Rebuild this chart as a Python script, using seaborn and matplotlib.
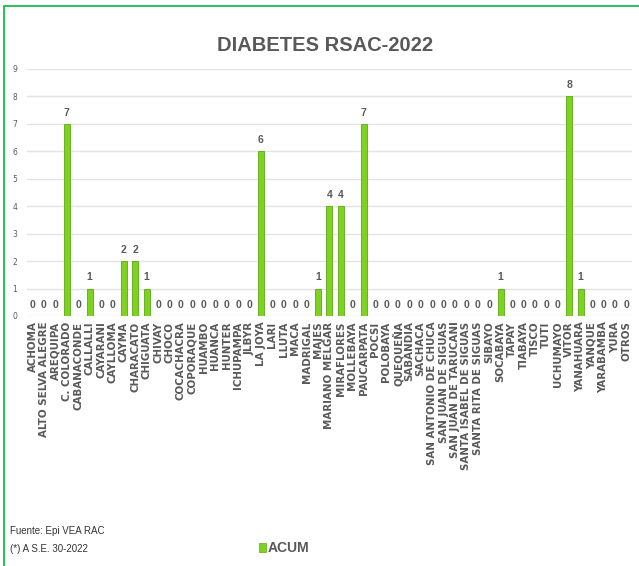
import pandas as pd
import matplotlib
matplotlib.use("Agg")
import matplotlib.pyplot as plt
from matplotlib.lines import Line2D
from matplotlib.patches import Rectangle
import seaborn as sns

distritos = [
    "ACHOMA", "ALTO SELVA ALEGRE", "AREQUIPA", "C. COLORADO", "CABANACONDE",
    "CALLALLI", "CAYARANI", "CAYLLOMA", "CAYMA", "CHARACATO", "CHIGUATA",
    "CHIVAY", "CHOCO", "COCACHACRA", "COPORAQUE", "HUAMBO", "HUANCA", "HUNTER",
    "ICHUPAMPA", "JLBYR", "LA JOYA", "LARI", "LLUTA", "MACA", "MADRIGAL",
    "MAJES", "MARIANO MELGAR", "MIRAFLORES", "MOLLEBAYA", "PAUCARPATA", "POCSI",
    "POLOBAYA", "QUEQUEÑA", "SABANDIA", "SACHACA", "SAN ANTONIO DE CHUCA",
    "SAN JUAN DE SIGUAS", "SAN JUAN DE TARUCANI", "SANTA ISABEL DE SIGUAS",
    "SANTA RITA DE SIGUAS", "SIBAYO", "SOCABAYA", "TAPAY", "TIABAYA", "TISCO",
    "TUTI", "UCHUMAYO", "VITOR", "YANAHUARA", "YANQUE", "YARABAMBA", "YURA",
    "OTROS",
]
acum = [
    0, 0, 0, 7, 0,
    1, 0, 0, 2, 2, 1,
    0, 0, 0, 0, 0, 0, 0,
    0, 0, 6, 0, 0, 0, 0,
    1, 4, 4, 0, 7, 0,
    0, 0, 0, 0, 0,
    0, 0, 0,
    0, 0, 1, 0, 0, 0,
    0, 0, 8, 1, 0, 0, 0,
    0,
]

df = pd.DataFrame({"Distrito": distritos, "ACUM": acum})

sns.set_theme(style="white")
narrow = ["Liberation Sans Narrow", "Liberation Sans", "DejaVu Sans"]
gray = "#595959"
bar_green = "#7ed321"

fig = plt.figure(figsize=(6.39, 5.66), dpi=100)
ax = fig.add_axes([0.042, 0.4417, 0.947, 0.4366])

sns.barplot(data=df, x="Distrito", y="ACUM", color=bar_green, width=0.52,
            saturation=1, edgecolor="#5ea617", linewidth=0.6, ax=ax)

ax.set_ylim(0, 9)
ax.set_xlim(-0.5, len(distritos) - 0.5)
ax.set_yticks(range(0, 10))
ax.yaxis.grid(True, color="#e3e3e3", linewidth=1)
ax.set_axisbelow(True)
for s in ax.spines.values():
    s.set_visible(False)
ax.set_xlabel("")
ax.set_ylabel("")
ax.tick_params(axis="y", labelsize=5.5, colors=gray, pad=7, length=0)
ax.tick_params(axis="x", length=0, pad=4)
ax.set_xticks(range(len(distritos)))
ax.set_xticklabels(distritos, rotation=90, fontsize=7.4, fontweight="bold",
                   color=gray, va="top", ha="center")

for i, v in enumerate(acum):
    ax.text(i, v + 0.22, str(v), ha="center", va="bottom", fontsize=7.5,
            fontweight="bold", color=gray, family=narrow)

fig.text(0.508, 0.92, "DIABETES RSAC-2022", ha="center", va="center",
         fontsize=14.5, fontweight="bold", color=gray, family=narrow)

fig.text(0.016, 0.062, "Fuente: Epi VEA RAC", fontsize=7, color="#333333",
         family=narrow, va="center")
fig.text(0.016, 0.030, "(*) A S.E. 30-2022", fontsize=7, color="#333333",
         family=narrow, va="center")

# legend
fig.add_artist(Rectangle((0.406, 0.024), 0.0095, 0.016, transform=fig.transFigure,
                         facecolor=bar_green, edgecolor="#5ea617", linewidth=0.5))
fig.text(0.419, 0.032, "ACUM", fontsize=10, fontweight="bold", color=gray,
         family=narrow, va="center")

# green frame
fig.add_artist(Line2D([0.0063, 1.0], [0.9894, 0.9894], transform=fig.transFigure,
                      color="#22c45a", linewidth=1.4))
fig.add_artist(Line2D([0.0063, 0.0063], [0.0, 0.9894], transform=fig.transFigure,
                      color="#22c45a", linewidth=1.4))

fig.savefig("out.png", dpi=100)
